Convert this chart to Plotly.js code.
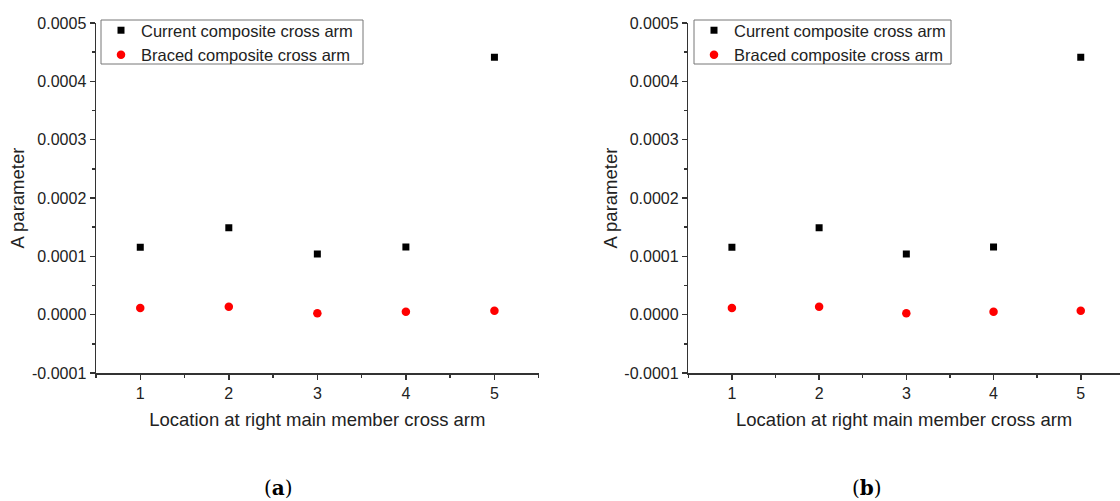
<!DOCTYPE html>
<html>
<head>
<meta charset="utf-8">
<script src="https://cdn.plot.ly/plotly-3.0.1.min.js"></script>
<style>html,body{margin:0;padding:0;background:#fff;}#chart{width:1120px;height:501px;}</style>
</head>
<body>
<div id="chart"></div>
<script>
// Data
const locations = [1, 2, 3, 4, 5];
const currentArm = [0.0001156, 0.0001491, 0.0001040, 0.0001161, 0.0004413];
const bracedArm = [0.0000115, 0.0000137, 0.0000024, 0.0000051, 0.0000069];
const seriesNames = ['Current composite cross arm', 'Braced composite cross arm'];
const yTickVals = [-0.0001, 0, 0.0001, 0.0002, 0.0003, 0.0004, 0.0005];
const yTickText = ['-0.0001', '0.0000', '0.0001', '0.0002', '0.0003', '0.0004', '0.0005'];
const xTickVals = [1, 2, 3, 4, 5];
const xTickText = ['1', '2', '3', '4', '5'];
const panelLabels = ['(<b>a</b>)', '(<b>b</b>)'];

const W = 1120, H = 501;
const font = {family: 'Liberation Sans, Arial, sans-serif', color: '#222'};

function mk(xaxis, yaxis, legend) {
  return [
    {x: locations, y: currentArm, name: seriesNames[0], type: 'scatter', mode: 'markers',
     xaxis: xaxis, yaxis: yaxis, legend: legend,
     marker: {symbol: 'square', size: 7, color: '#000'}},
    {x: locations, y: bracedArm, name: seriesNames[1], type: 'scatter', mode: 'markers',
     xaxis: xaxis, yaxis: yaxis, legend: legend,
     marker: {symbol: 'circle', size: 8.5, color: '#ff0000'}}
  ];
}

const data = mk('x', 'y', 'legend').concat(mk('x2', 'y2', 'legend2'));

function xax(domain, range, anchor) {
  return {
    domain: domain, range: range, anchor: anchor,
    showline: true, linecolor: '#333', linewidth: 1.5, mirror: false,
    showgrid: false, zeroline: false,
    tickmode: 'array', tickvals: xTickVals, ticktext: xTickText,
    ticks: 'outside', ticklen: 5, tickwidth: 1.5, tickcolor: '#333',
    tickfont: Object.assign({size: 16}, font),
    minor: {dtick: 0.5, ticks: 'outside', ticklen: 3, tickwidth: 1.5, tickcolor: '#333', showgrid: false},
    title: {text: 'Location at right main member cross arm', font: Object.assign({size: 18.5}, font), standoff: 12}
  };
}
function yax(domain, anchor) {
  return {
    domain: domain, range: [-0.0001, 0.0005], anchor: anchor,
    showline: true, linecolor: '#333', linewidth: 1.5, mirror: false,
    showgrid: false, zeroline: false,
    tickmode: 'array', tickvals: yTickVals, ticktext: yTickText,
    ticks: 'outside', ticklen: 5, tickwidth: 1.5, tickcolor: '#333',
    tickfont: Object.assign({size: 16}, font),
    minor: {dtick: 0.00005, ticks: 'outside', ticklen: 3, tickwidth: 1.5, tickcolor: '#333', showgrid: false},
    title: {text: 'A parameter', font: Object.assign({size: 18.5}, font), standoff: 2}
  };
}

const yDom = [1 - 373 / H, 1 - 23 / H];
function legendAt(xpx) {
  return {
    x: xpx / W, y: 1 - 13 / H, xanchor: 'left', yanchor: 'top',
    xref: 'paper', yref: 'paper',
    borderwidth: 0, bgcolor: 'rgba(255,255,255,0)',
    font: Object.assign({size: 16.5}, font),
    tracegroupgap: 0, itemwidth: 30
  };
}
function boxAt(x0, x1) {
  return {type: 'rect', xref: 'paper', yref: 'paper',
    x0: x0 / W, x1: x1 / W, y0: 1 - 64 / H, y1: 1 - 20 / H,
    line: {color: '#777', width: 1}, fillcolor: 'rgba(0,0,0,0)'};
}

const layout = {
  width: W, height: H,
  margin: {l: 0, r: 0, t: 0, b: 0},
  paper_bgcolor: '#fff', plot_bgcolor: '#fff',
  showlegend: true,
  xaxis: xax([96 / W, 538.7 / W], [0.5, 5.5], 'y'),
  yaxis: yax(yDom, 'x'),
  xaxis2: xax([688.3 / W, 1], [0.5, 5.45], 'y2'),
  yaxis2: yax(yDom, 'x2'),
  legend: legendAt(101),
  legend2: legendAt(694),
  shapes: [boxAt(101, 363), boxAt(694, 951)],
  annotations: [
    {text: panelLabels[0], x: 278 / W, y: 1 - 488 / H, xref: 'paper', yref: 'paper', showarrow: false,
     xanchor: 'center', yanchor: 'middle',
     font: {family: 'DejaVu Serif, Liberation Serif, serif', size: 20, color: '#000'}},
    {text: panelLabels[1], x: 867 / W, y: 1 - 488 / H, xref: 'paper', yref: 'paper', showarrow: false,
     xanchor: 'center', yanchor: 'middle',
     font: {family: 'DejaVu Serif, Liberation Serif, serif', size: 20, color: '#000'}}
  ]
};

Plotly.newPlot('chart', data, layout, {displayModeBar: false, staticPlot: true});
</script>
</body>
</html>
